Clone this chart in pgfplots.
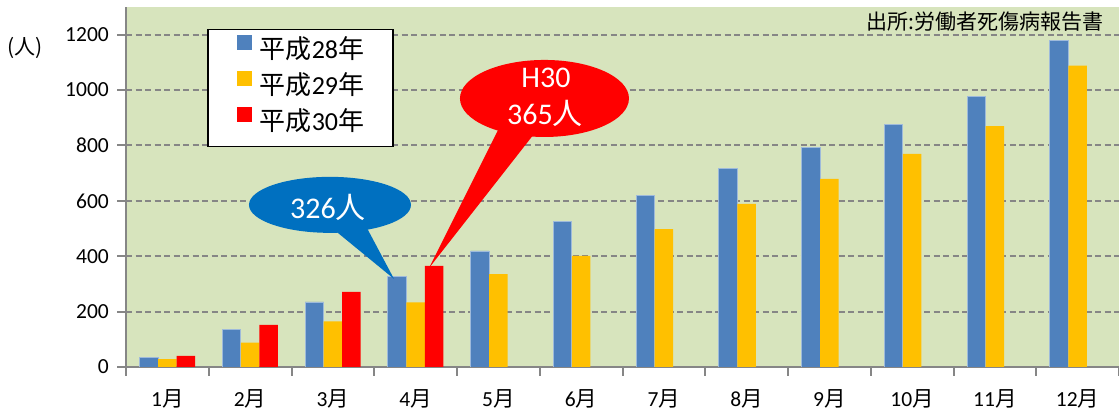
\documentclass[border=0pt]{standalone}
\usepackage{fontspec}
\setmainfont{Carlito}
\newfontfamily\jp{Noto Sans CJK JP}
\usepackage{pgfplots}
\pgfplotsset{compat=1.18}

\definecolor{bggreen}{HTML}{D7E4BD}
\definecolor{gridgray}{HTML}{868686}
\definecolor{b28}{HTML}{4F81BD}
\definecolor{y29}{HTML}{FFC000}
\definecolor{r30}{HTML}{FF0000}
\definecolor{callblue}{HTML}{0070C0}

\pgfplotsset{sqlegend/.style={legend image code/.code={\fill[##1,draw=none] (0pt,2.5pt) rectangle (15pt,17.5pt);}}}

\begin{document}
\begin{tikzpicture}
\path[use as bounding box] (0,0) rectangle (1119pt,411pt);
\begin{axis}[
    at={(126pt,44pt)}, anchor=south west,
    scale only axis, width=993pt, height=360pt,
    ybar=0pt, bar width=18.5pt,
    xmin=0.5, xmax=12.5, ymin=0, ymax=1300,
    axis x line=bottom, axis y line=left,
    axis line style={-, gridgray, line width=2pt},
    axis background/.style={fill=bggreen},
    xtick={1,...,12},
    xticklabels={1{\jp 月},2{\jp 月},3{\jp 月},4{\jp 月},5{\jp 月},6{\jp 月},7{\jp 月},8{\jp 月},9{\jp 月},10{\jp 月},11{\jp 月},12{\jp 月}},
    minor xtick={0.5,1.5,...,12.5},
    ytick={0,200,...,1200},
    tick align=outside,
    major tick length=9pt, minor tick length=9pt,
    major x tick style={draw=none},
    minor x tick style={gridgray, line width=2pt},
    major y tick style={gridgray, line width=2pt},
    ymajorgrids=true,
    major grid style={gridgray, line width=2pt, dash pattern=on 6pt off 3.5pt},
    /pgf/number format/assume math mode=true,
    /pgf/number format/1000 sep={},
    yticklabel style={font=\fontsize{21.5}{21.5}\selectfont, inner sep=0pt, xshift=-8pt},
    xticklabel style={font=\fontsize{21.5}{21.5}\selectfont, inner sep=0pt, yshift=-13pt},
    legend style={at={(0.0816,0.939)}, anchor=north west,
        draw=black, line width=1.5pt, fill=white,
        font=\fontsize{26}{28}\selectfont,
        inner xsep=29pt, inner ysep=4.5pt, row sep=0pt,
        nodes={inner sep=0pt, text height=24pt, text depth=12pt},
        /tikz/every odd column/.append style={column sep=8pt}},
    legend cell align=left,
]
\addplot[fill=b28, draw=b28!55!white, line width=0.8pt, sqlegend] coordinates {
  (1,33) (2,136) (3,235) (4,326) (5,419) (6,527)
  (7,621) (8,716) (9,792) (10,875) (11,976) (12,1179)};
\addplot[fill=y29, draw=none, sqlegend] coordinates {
  (1,28) (2,88) (3,165) (4,233) (5,335) (6,401)
  (7,498) (8,589) (9,679) (10,770) (11,870) (12,1088)};
\addplot[fill=r30, draw=none, sqlegend] coordinates {
  (1,40) (2,152) (3,271) (4,365)};
\legend{{\jp 平成}28{\jp 年},{\jp 平成}29{\jp 年},{\jp 平成}30{\jp 年}}

% callouts
\fill[callblue] (axis cs:2.965,585.5) ellipse [x radius=81pt, y radius=28pt];
\fill[callblue] (axis cs:2.796,549) -- (axis cs:3.328,549) -- (axis cs:3.739,318) -- cycle;
\node[white, anchor=base, inner sep=0pt, font=\fontsize{30}{30}\selectfont] at (axis cs:2.941,537) {326{\jp 人}};

\fill[r30] (axis cs:5.557,969.7) ellipse [x radius=84.5pt, y radius=38.5pt];
\fill[r30] (axis cs:5.056,892) -- (axis cs:5.563,892) -- (axis cs:4.162,357.5) -- cycle;
\node[white, anchor=base, inner sep=0pt, font=\fontsize{30}{30}\selectfont] at (axis cs:5.576,1011) {H30};
\node[white, anchor=base, inner sep=0pt, font=\fontsize{30}{30}\selectfont] at (axis cs:5.563,874) {365{\jp 人}};
\end{axis}
\node[anchor=center, inner sep=0pt, font=\jp\fontsize{21}{21}\selectfont] at (25pt,363pt) {(人)};
\node[anchor=east, inner sep=0pt, font=\jp\fontsize{21}{21}\selectfont] at (1104pt,389pt) {出所:労働者死傷病報告書};
\end{tikzpicture}
\end{document}
